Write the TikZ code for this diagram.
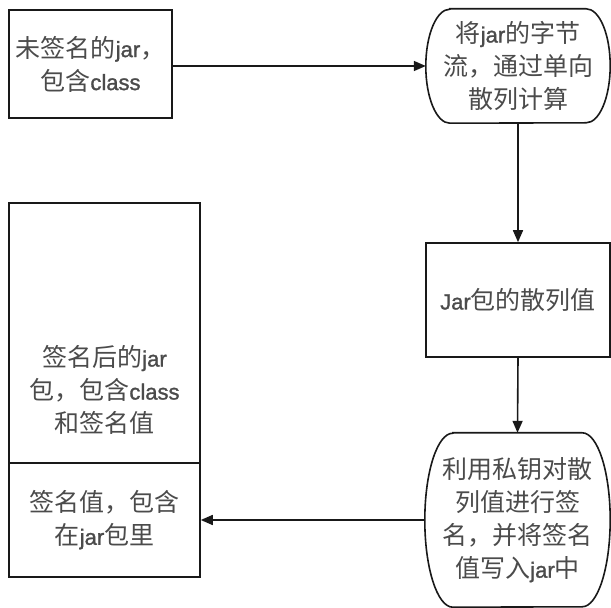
\documentclass[tikz,border=0pt]{standalone}
\usepackage{fontspec}
\newfontfamily\cjk{Noto Sans CJK SC}
\newfontfamily\latn[FakeBold=1.3]{Liberation Sans}
\newcommand\en[1]{{\latn\fontsize{22}{33}\selectfont #1}}
\usetikzlibrary{arrows.meta,calc}
\definecolor{inkline}{RGB}{25,25,25}
\definecolor{inktext}{RGB}{75,75,75}
\tikzset{
  outline/.style={draw=inkline, line width=1.6pt},
  txt/.style={font=\cjk\fontsize{25}{33}\selectfont, text=inktext, align=center, inner sep=0pt},
  boxnode/.style={outline, rectangle, txt},
  termnode/.style={rectangle, draw=none, txt},
  flow/.style={draw=inkline, line width=1.6pt, -{Triangle[length=12pt,width=10pt]}},
}
% terminal outline with elliptical ends: node, x radius, y radius
\newcommand\termoutline[3]{%
  \draw[outline] ($(#1.north west)+(#2,0)$) -- ($(#1.north east)+(-#2,0)$)
    arc[start angle=90, end angle=-90, x radius=#2, y radius=#3]
    -- ($(#1.south west)+(#2,0)$)
    arc[start angle=270, end angle=90, x radius=#2, y radius=#3] -- cycle;}
\begin{document}
\begin{tikzpicture}[x=1pt,y=1pt]
  \useasboundingbox (0,0) rectangle (611,608);
  \fill[white] (0,0) rectangle (611,608);

  % unsigned jar
  \node[boxnode, minimum width=163pt, minimum height=108pt] (unsigned) at (90.5,544)
    {未签名的\en{jar}，\\包含\en{class}};

  % one-way hash of the byte stream
  \node[termnode, minimum width=184pt, minimum height=114pt] (hash) at (518,542)
    {将\en{jar}的字节\\流，通过单向\\散列计算};
  \termoutline{hash}{24}{57}

  % hash value
  \node[boxnode, minimum width=184pt, minimum height=114pt] (hashval) at (518,308)
    {\en{Jar}包的散列值};

  % signing with the private key
  \node[termnode, minimum width=185pt, minimum height=174pt] (signop) at (517.5,88)
    {利用私钥对散\\列值进行签\\名，并将签名\\值写入\en{jar}中};
  \termoutline{signop}{28}{87}

  % signed jar with embedded signature
  \node[boxnode, minimum width=191pt, minimum height=260pt] (signed) at (104.5,275) {};
  \node[txt] (signedtxt) at (104.5,218) {签名后的\en{jar}\\包，包含\en{class}\\和签名值};
  \node[boxnode, minimum width=191pt, minimum height=114pt] (sigval) at (104.5,88)
    {签名值，包含\\在\en{jar}包里};

  % connectors
  \draw[flow] (unsigned.east |- hash.west) -- (hash.west);
  \draw[flow] (hash.south) -- (hashval.north);
  \draw[flow] (hashval.south) -- (signop.north);
  \draw[flow] (signop.west) -- (sigval.east);
\end{tikzpicture}
\end{document}
